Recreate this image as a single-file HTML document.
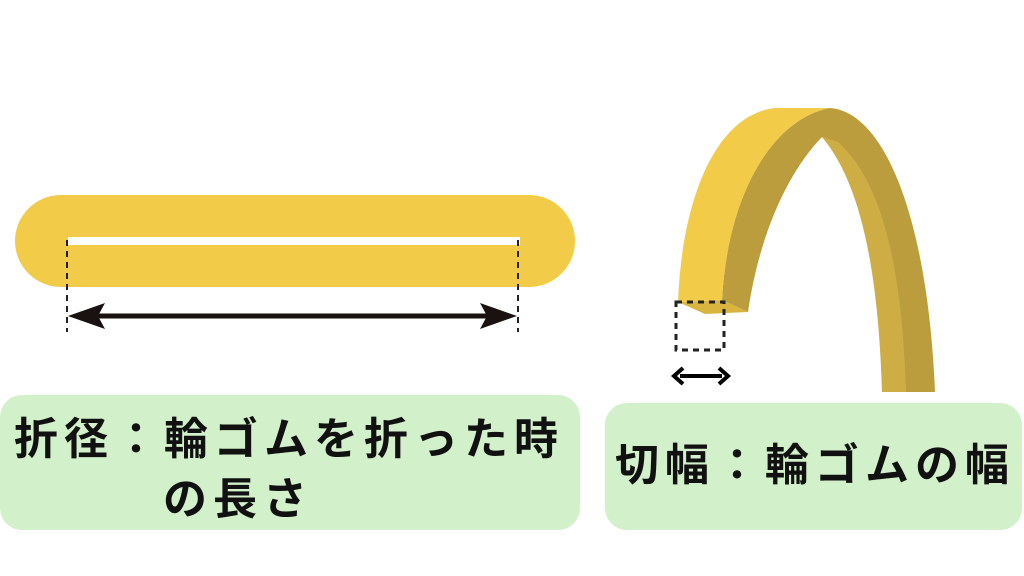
<!DOCTYPE html>
<html><head><meta charset="utf-8"><style>
body{margin:0;width:1024px;height:576px;background:#fff;position:relative;overflow:hidden;font-family:"Liberation Sans","Noto Sans CJK JP",sans-serif;}
.box{position:absolute;background:#d2f0c9;border-radius:22px;}
.t{position:absolute;font-weight:bold;font-size:44px;color:#111;white-space:nowrap;line-height:1;}
</style></head><body>
<svg width="1024" height="576" style="position:absolute;left:0;top:0">
<rect x="15" y="195" width="560" height="92" rx="46" fill="#f2cb48"/>
<rect x="68" y="237" width="452" height="8" fill="#fff"/>
<line x1="67" y1="240" x2="67" y2="332" stroke="#222" stroke-width="2" stroke-dasharray="6,5"/>
<line x1="518" y1="240" x2="518" y2="332" stroke="#222" stroke-width="2" stroke-dasharray="6,5"/>
<line x1="85" y1="316" x2="500" y2="316" stroke="#1a1111" stroke-width="5"/>
<polygon points="68,316 105,303 98,316 105,329" fill="#1a1111"/>
<polygon points="517,316 480,303 487,316 480,329" fill="#1a1111"/>
<path d="M722,300 C728,190 775,118 830,108 C885,112 928,220 935,392 L882,392 C880,260 860,180 822,137 C790,170 760,230 748,312 Z" fill="#bb9d3e"/>
<path d="M822,137 C858,180 878,260 882,392 L906,392 C902,260 880,180 838,142 Z" fill="#cdad44"/>
<path d="M678,302 C682,200 715,115 775,108 L830,108 C775,118 728,190 722,300 Z" fill="#f2cb48"/>
<polygon points="678,302 722,300 748,312 705,314" fill="#d9b540"/>
<rect x="676" y="302" width="48" height="48" fill="none" stroke="#222" stroke-width="3" stroke-dasharray="6,5"/>
<line x1="680" y1="376" x2="722" y2="376" stroke="#000" stroke-width="4"/>
<polyline points="683,368 674,376 683,384" fill="none" stroke="#000" stroke-width="4"/>
<polyline points="719,368 728,376 719,384" fill="none" stroke="#000" stroke-width="4"/>
</svg>
<div class="box" style="left:0;top:395px;width:580px;height:135px"></div>
<div class="box" style="left:605px;top:403px;width:417px;height:127px"></div>
<div class="t" style="left:14px;top:418px;letter-spacing:6px">折径：輪ゴムを折った時</div>
<div class="t" style="left:163px;top:478px;letter-spacing:6px">の長さ</div>
<div class="t" style="left:615px;top:444px;letter-spacing:6px">切幅：輪ゴムの幅</div>
</body></html>
